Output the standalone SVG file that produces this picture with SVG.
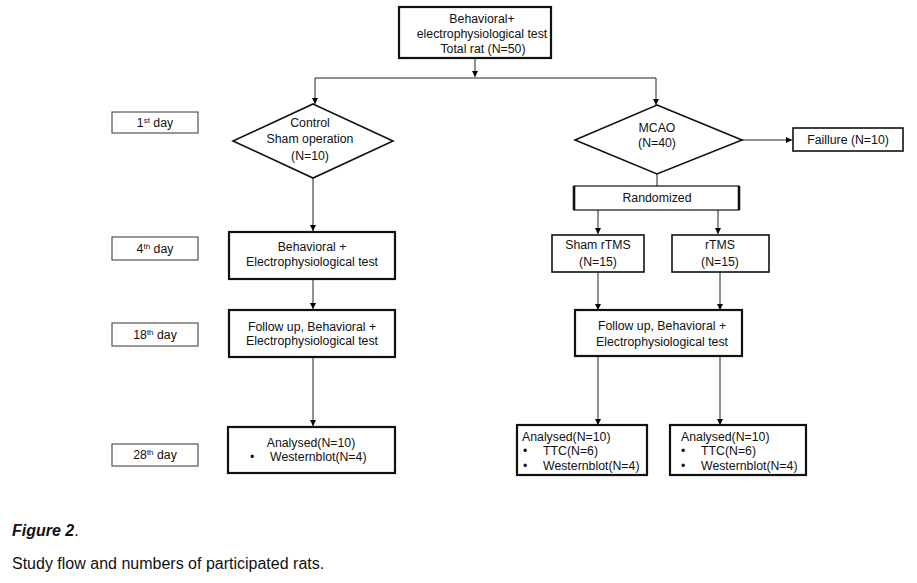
<svg xmlns="http://www.w3.org/2000/svg" width="917" height="583" viewBox="0 0 917 583">
<defs>
<marker id="ah" viewBox="0 0 10 10" refX="10" refY="5" markerWidth="6" markerHeight="6" orient="auto" markerUnits="userSpaceOnUse">
<path d="M0,0 L10,5 L0,10 z" fill="#000"/>
</marker>
<style>
text{font-family:"Liberation Sans",Arial,sans-serif;font-size:12.3px;fill:#111}
.c{text-anchor:middle}
.box{fill:#fff;stroke:#111;stroke-width:1.6}
.thin{fill:#fff;stroke:#111;stroke-width:1.2}
.bold{fill:#fff;stroke:#111;stroke-width:2.2}
.day{fill:#fff;stroke:#444;stroke-width:1.1}
.ln{fill:none;stroke:#222;stroke-width:1}
.arr{fill:none;stroke:#222;stroke-width:1;marker-end:url(#ah)}
.cap{font-size:16px}
</style>
</defs>
<rect width="917" height="583" fill="#fff"/>

<g id="connectors">
<path class="arr" d="M475,58 V77"/>
<path class="ln" d="M315,78 H656"/>
<path class="arr" d="M315,78 V104"/>
<path class="arr" d="M656,78 V105"/>
<path class="arr" d="M313,178 V231"/>
<path class="arr" d="M313,279 V309"/>
<path class="arr" d="M313,357 V426"/>
<path class="ln" d="M657,173 V186"/>
<path class="arr" d="M742,140 H792"/>
<path class="arr" d="M598,210 V234"/>
<path class="arr" d="M718,210 V234"/>
<path class="arr" d="M598,272 V310"/>
<path class="arr" d="M720,272 V310"/>
<path class="arr" d="M598,356 V425"/>
<path class="arr" d="M720,356 V425"/>
</g>

<g id="top">
<rect class="bold" x="399" y="7" width="152" height="51"/>
<text class="c" x="482" y="23">Behavioral+</text>
<text class="c" x="482" y="38">electrophysiological test</text>
<text class="c" x="483" y="53">Total rat (N=50)</text>
</g>

<g id="day1">
<rect class="day" x="112" y="112" width="86" height="21"/>
<text class="c" x="155" y="127">1<tspan font-size="8" dy="-4">st</tspan><tspan dy="4"> day</tspan></text>
</g>
<g id="day4">
<rect class="day" x="112" y="237" width="86" height="23"/>
<text class="c" x="155" y="253">4<tspan font-size="8" dy="-4">th</tspan><tspan dy="4"> day</tspan></text>
</g>
<g id="day18">
<rect class="day" x="112" y="323" width="86" height="23"/>
<text class="c" x="155" y="339">18<tspan font-size="8" dy="-4">th</tspan><tspan dy="4"> day</tspan></text>
</g>
<g id="day28">
<rect class="day" x="112" y="444" width="86" height="22"/>
<text class="c" x="155" y="459">28<tspan font-size="8" dy="-4">th</tspan><tspan dy="4"> day</tspan></text>
</g>

<g id="control">
<polygon class="box" points="313,104 393,141 313,178 233,141"/>
<text class="c" x="310" y="127">Control</text>
<text class="c" x="310" y="143">Sham operation</text>
<text class="c" x="310" y="160">(N=10)</text>
</g>

<g id="mcao">
<polygon class="box" points="657,105 742,140 657,174 575,140"/>
<text class="c" x="657" y="132">MCAO</text>
<text class="c" x="657" y="147">(N=40)</text>
</g>

<g id="failure">
<rect class="box" x="793" y="128" width="110" height="23"/>
<text class="c" x="848" y="144">Faillure (N=10)</text>
</g>

<g id="randomized">
<rect class="thin" x="574" y="186" width="165" height="24"/>
<line x1="574" y1="186" x2="574" y2="210" stroke="#111" stroke-width="2.6"/>
<line x1="739" y1="186" x2="739" y2="210" stroke="#111" stroke-width="2.6"/>
<text class="c" x="657" y="202">Randomized</text>
</g>

<g id="shamrtms">
<rect class="box" x="552" y="235" width="92" height="37"/>
<text class="c" x="598" y="249">Sham rTMS</text>
<text class="c" x="598" y="266">(N=15)</text>
</g>

<g id="rtms">
<rect class="box" x="672" y="235" width="97" height="37"/>
<text class="c" x="720" y="249">rTMS</text>
<text class="c" x="720" y="266">(N=15)</text>
</g>

<g id="behav-left">
<rect class="bold" x="229" y="232" width="166" height="47"/>
<text class="c" x="312" y="251">Behavioral +</text>
<text class="c" x="312" y="266">Electrophysiological test</text>
</g>

<g id="follow-left">
<rect class="bold" x="229" y="310" width="166" height="47"/>
<text class="c" x="312" y="331">Follow up, Behavioral +</text>
<text class="c" x="312" y="345">Electrophysiological test</text>
</g>

<g id="follow-right">
<rect class="bold" x="575" y="310" width="167" height="46"/>
<text class="c" x="662" y="330">Follow up, Behavioral +</text>
<text class="c" x="662" y="346">Electrophysiological test</text>
</g>

<g id="analysed-left">
<rect class="bold" x="228" y="427" width="167" height="46"/>
<text class="c" x="311" y="447">Analysed(N=10)</text>
<text x="250" y="461">•</text>
<text x="270" y="461">Westernblot(N=4)</text>
</g>

<g id="analysed-mid">
<rect class="bold" x="517" y="425" width="130" height="50"/>
<text x="522" y="441">Analysed(N=10)</text>
<text x="523" y="455">•</text>
<text x="543" y="455">TTC(N=6)</text>
<text x="523" y="470">•</text>
<text x="543" y="470">Westernblot(N=4)</text>
</g>

<g id="analysed-right">
<rect class="bold" x="670" y="425" width="136" height="50"/>
<text x="681" y="441">Analysed(N=10)</text>
<text x="681" y="455">•</text>
<text x="701" y="455">TTC(N=6)</text>
<text x="681" y="470">•</text>
<text x="701" y="470">Westernblot(N=4)</text>
</g>

<g id="caption">
<text class="cap" x="12" y="536"><tspan font-weight="bold" font-style="italic">Figure 2</tspan>.</text>
<text class="cap" x="12" y="569">Study flow and numbers of participated rats.</text>
</g>
</svg>
